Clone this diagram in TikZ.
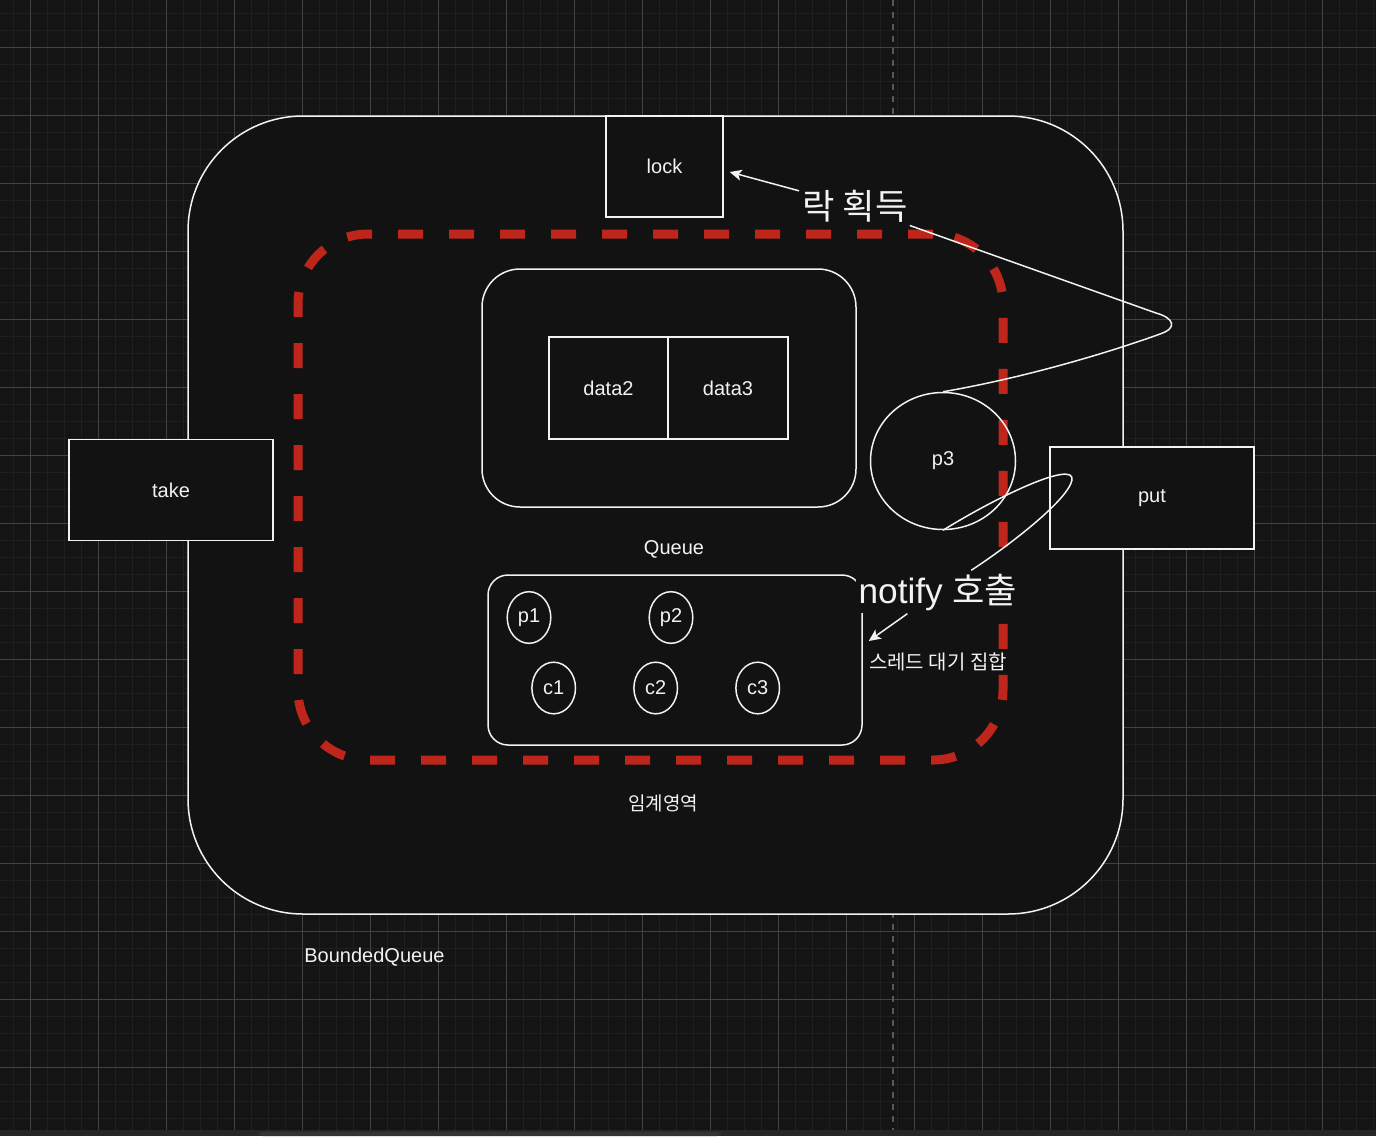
\documentclass[tikz,border=0pt]{standalone}
\usepackage{fontspec}
\setmainfont{Liberation Sans}
\newfontfamily\kr{Noto Sans CJK KR}
\usetikzlibrary{shapes.geometric,arrows.meta}

\definecolor{canvas}{RGB}{20,20,20}
\definecolor{shapebg}{RGB}{18,18,18}
\definecolor{gridminor}{RGB}{31,31,31}
\definecolor{gridmajor}{RGB}{66,66,66}
\definecolor{guide}{RGB}{88,88,88}
\definecolor{critred}{RGB}{190,38,28}
\definecolor{ink}{RGB}{242,242,242}

\tikzset{
	box/.style={draw=ink, fill=shapebg, line width=0.75pt, text=ink, inner sep=0pt, font=\fontsize{10}{12}\selectfont},
	thread/.style={ellipse, draw=ink, fill=shapebg, line width=0.75pt, text=ink, inner sep=0pt, minimum width=21.8pt, minimum height=25.8pt, font=\fontsize{10}{12}\selectfont},
	caption/.style={text=ink, inner sep=0pt, font=\fontsize{10}{12}\selectfont},
	biglabel/.style={fill=shapebg, text=ink, inner sep=1.5pt, font=\fontsize{17.6}{20}\selectfont},
	wire/.style={draw=ink, line width=0.75pt},
	arr/.style={wire, -{Stealth[length=6pt,width=5.5pt,inset=1.5pt]}},
}

\begin{document}
\begin{tikzpicture}[x=0.5pt,y=-0.5pt]
		\useasboundingbox (0,0) rectangle (1376,1136);
		%canvas
		\fill[canvas] (0,0) rectangle (1376,1136);
		\foreach \gx in {13.7,30.7,...,1376} \draw[gridminor, line width=0.6pt] (\gx,0) -- (\gx,1130);
		\foreach \gy in {13.3,30.3,...,1130} \draw[gridminor, line width=0.6pt] (0,\gy) -- (1376,\gy);
		\foreach \gx in {30.7,98.7,...,1376} \draw[gridmajor, line width=0.5pt] (\gx,0) -- (\gx,1130);
		\foreach \gy in {47.3,115.3,...,1130} \draw[gridmajor, line width=0.5pt] (0,\gy) -- (1376,\gy);
		\draw[guide, line width=1pt, dash pattern=on 3pt off 3pt] (893,0) -- (893,1130);
		\fill[black!85!white] (0,1130) rectangle (1376,1136);
		\fill[black!80!white, rounded corners=2pt] (259,1131.5) rectangle (721,1136);
		%BoundedQueue
		\node[box, rounded corners=57.5pt, minimum width=467.5pt, minimum height=399pt] (bq) at (655.5,515) {};
		\node[caption, anchor=west] (bqname) at (304,957) {BoundedQueue};
		%critical section
		\node[draw=critred, line width=4.5pt, dash pattern=on 12.5pt off 13pt, rounded corners=35pt, minimum width=352.5pt, minimum height=263pt, inner sep=0pt] (crit) at (650.5,497) {};
		\node[caption, font=\fontsize{9.5}{12}\selectfont] (critname) at (663,803) {\kr 임계영역};
		%Queue
		\node[box, rounded corners=19pt, minimum width=187pt, minimum height=119pt] (queue) at (669,388) {};
		\node[caption] (queuename) at (674,549) {Queue};
		\node[box, minimum width=59.5pt, minimum height=51pt] (data2) at (608.5,388) {data2};
		\node[box, minimum width=60pt, minimum height=51pt] (data3) at (728,388) {data3};
		%wait set
		\node[box, rounded corners=10pt, minimum width=187pt, minimum height=85pt] (waitset) at (675,660) {};
		\node[thread] (p1) at (529,617.5) {p1};
		\node[thread] (p2) at (671,617.5) {p2};
		\node[thread] (c1) at (553.7,688) {c1};
		\node[thread] (c2) at (655.7,688) {c2};
		\node[thread] (c3) at (757.7,688) {c3};
		\node[caption] (waitname) at (938,662) {\kr 스레드 대기 집합};
		%methods
		\node[box, minimum width=58.5pt, minimum height=50.5pt] (lock) at (664.5,166.5) {lock};
		\node[box, minimum width=102pt, minimum height=50.5pt] (take) at (171,490) {take};
		\node[box, minimum width=102pt, minimum height=51pt] (put) at (1152,498) {put};
		%p3
		\node[thread, fill=none, minimum width=72.5pt, minimum height=68.5pt] (p3) at (943,461) {p3};
		\node[biglabel] (lockLbl) at (855,206) {\kr 락 획득};
		\node[biglabel] (notifyLbl) at (938,592) {notify {\kr 호출}};
		\draw[wire] (p3.north) .. controls (1040,375) and (1130,345) .. (1160,334) .. controls (1178,328) and (1174,318) .. (1156,313) -- (lockLbl);
		\draw[arr] (lockLbl) -- ([xshift=3pt,yshift=-2.75pt]lock.east);
		\draw[wire] (p3.south) .. controls (1000,495) and (1075,460) .. (1072,480) .. controls (1068,500) and (1010,545) .. (notifyLbl);
		\draw[arr] (notifyLbl) -- ([xshift=3pt,yshift=9.5pt]waitset.east);
	\end{tikzpicture}
\end{document}
